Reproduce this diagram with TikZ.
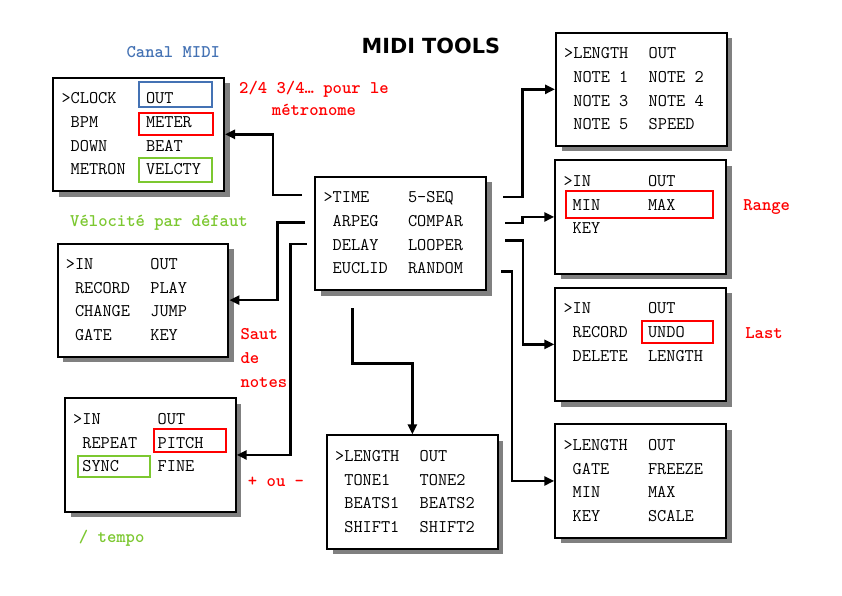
\documentclass[tikz,border=0pt]{standalone}
\usepackage{fontspec}
\newfontfamily\titlefont{DejaVu Sans}
\newfontfamily\lblfont{lmmonolt10-bold.otf}
\usetikzlibrary{arrows.meta,shadows,calc}
\definecolor{lblblue}{RGB}{68,114,180}
\definecolor{lblgreen}{RGB}{124,200,48}
\definecolor{lblred}{RGB}{255,0,0}
\definecolor{shadowgray}{RGB}{128,128,128}
\newcommand{\mrow}[4]{%
  \node[rowtext] (#1-#2a) at ($(#1.north west)+(9,{27+23.7*(#2-1)})$) {#3};
  \node[rowtext] (#1-#2b) at ($(#1.north west)+(93.5,{27+23.7*(#2-1)})$) {#4};
}
\newcommand{\ind}{\phantom{>}}
\begin{document}
\begin{tikzpicture}[x=1pt,y=-1pt,
  menubox/.style={draw=black, line width=2pt, fill=white, minimum width=170.7pt,
    minimum height=113.3pt, anchor=north west, inner sep=0pt,
    general shadow={fill=shadowgray, shadow xshift=5.5pt, shadow yshift=-5.5pt}},
  rowtext/.style={anchor=base west, inner sep=0pt, font=\ttfamily\fontsize{17.8}{20}\selectfont},
  lbl/.style={anchor=base, inner sep=0pt, font=\lblfont\fontsize{17.8}{22.2}\selectfont},
  conn/.style={line width=2.5pt, -{Triangle[length=10pt,width=9pt]}},
  hl/.style={line width=2pt}]
\fill[white] (0,0) rectangle (842,596);
\useasboundingbox (0,0) rectangle (842,596);

% title
\node[anchor=base, inner sep=0pt, font=\titlefont\bfseries\fontsize{20.8}{24}\selectfont] (title) at (430.8,54) {MIDI TOOLS};

% boxes
\node[menubox] (clock) at (52.3,76.7) {};
\node[menubox] (inbox) at (56.7,242.5) {};
\node[menubox] (rep) at (64,397.3) {};
\node[menubox] (main) at (314.3,175.7) {};
\node[menubox] (seq) at (326,434.3) {};
\node[menubox] (notes) at (555,31.7) {};
\node[menubox] (range) at (554.3,159.3) {};
\node[menubox] (undo) at (554.3,286.7) {};
\node[menubox] (freeze) at (554.3,423.3) {};

% rows
\mrow{clock}{1}{>CLOCK}{OUT}
\mrow{clock}{2}{\ind BPM}{METER}
\mrow{clock}{3}{\ind DOWN}{BEAT}
\mrow{clock}{4}{\ind METRON}{VELCTY}

\mrow{inbox}{1}{>IN}{OUT}
\mrow{inbox}{2}{\ind RECORD}{PLAY}
\mrow{inbox}{3}{\ind CHANGE}{JUMP}
\mrow{inbox}{4}{\ind GATE}{KEY}

\mrow{rep}{1}{>IN}{OUT}
\mrow{rep}{2}{\ind REPEAT}{PITCH}
\mrow{rep}{3}{\ind SYNC}{FINE}

\mrow{main}{1}{>TIME}{5-SEQ}
\mrow{main}{2}{\ind ARPEG}{COMPAR}
\mrow{main}{3}{\ind DELAY}{LOOPER}
\mrow{main}{4}{\ind EUCLID}{RANDOM}

\mrow{seq}{1}{>LENGTH}{OUT}
\mrow{seq}{2}{\ind TONE1}{TONE2}
\mrow{seq}{3}{\ind BEATS1}{BEATS2}
\mrow{seq}{4}{\ind SHIFT1}{SHIFT2}

\mrow{notes}{1}{>LENGTH}{OUT}
\mrow{notes}{2}{\ind NOTE 1}{NOTE 2}
\mrow{notes}{3}{\ind NOTE 3}{NOTE 4}
\mrow{notes}{4}{\ind NOTE 5}{SPEED}

\mrow{range}{1}{>IN}{OUT}
\mrow{range}{2}{\ind MIN}{MAX}
\mrow{range}{3}{\ind KEY}{}

\mrow{undo}{1}{>IN}{OUT}
\mrow{undo}{2}{\ind RECORD}{UNDO}
\mrow{undo}{3}{\ind DELETE}{LENGTH}

\mrow{freeze}{1}{>LENGTH}{OUT}
\mrow{freeze}{2}{\ind GATE}{FREEZE}
\mrow{freeze}{3}{\ind MIN}{MAX}
\mrow{freeze}{4}{\ind KEY}{SCALE}

% highlights
\draw[hl, lblblue] (139.3,81.7) rectangle (212.3,107.3);
\draw[hl, lblred] (139.3,112.7) rectangle (212.5,135.3);
\draw[hl, lblgreen] (139.3,158.3) rectangle (212.3,181.7);
\draw[hl, lblred] (154,429.3) rectangle (226,451.7);
\draw[hl, lblgreen] (77.7,456) rectangle (150,477.3);
\draw[hl, lblred] (566,190.7) rectangle (712.7,218.3);
\draw[hl, lblred] (641.7,320.7) rectangle (713.3,342.7);

% connectors
\coordinate (l1) at ($(main.north west)+(-12.3,19.3)$);
\coordinate (l2) at ($(main.north west)+(-9.3,47)$);
\coordinate (l3) at ($(main.north west)+(-7.6,68.3)$);
\coordinate (r1) at ($(main.north east)+(16.3,21.3)$);
\coordinate (r2) at ($(main.north east)+(18.3,47.3)$);
\coordinate (r3) at ($(main.north east)+(18.3,65)$);
\coordinate (r4) at ($(main.north east)+(14.3,96)$);
\coordinate (b1) at ($(main.south west)+(38.4,17.4)$);

\draw[conn] (l1) -- ++(-29,0) |- (clock.east);
\draw[conn] (l2) -- ++(-27.7,0) |- (inbox.east);
\draw[conn] (l3) -- ++(-16,0) |- (rep.east);
\draw[conn] (r1) -- ++(19,0) |- (notes.west);
\draw[conn] (r2) -- ++(17,0) |- (range.west);
\draw[conn] (r3) -- ++(17.7,0) |- (undo.west);
\draw[conn] (r4) -- ++(10.7,0) |- (freeze.west);
\draw[conn] (b1) -- ++(0,55) -| (seq.north);

% labels
\node[lbl, text=lblblue] (canal) at (173.3,57.3) {Canal MIDI};
\node[lbl, text=lblred, align=center] (meter) at (314,116) {2/4 3/4… pour le\\métronome};
\node[lbl, text=lblgreen] (velo) at (159,226.5) {Vélocité par défaut};
\node[lbl, text=lblred, align=left, anchor=base west, font=\lblfont\fontsize{17.8}{24.2}\selectfont] (saut) at (240.3,387.7) {Saut\\de\\notes};
\node[lbl, text=lblred] (plusmoins) at (276,486.5) {+ ou -};
\node[lbl, text=lblgreen] (tempo) at (111.7,542.7) {/ tempo};
\node[lbl, text=lblred] (rangelbl) at (766.7,210) {Range};
\node[lbl, text=lblred] (last) at (764,338.3) {Last};
\end{tikzpicture}
\end{document}
